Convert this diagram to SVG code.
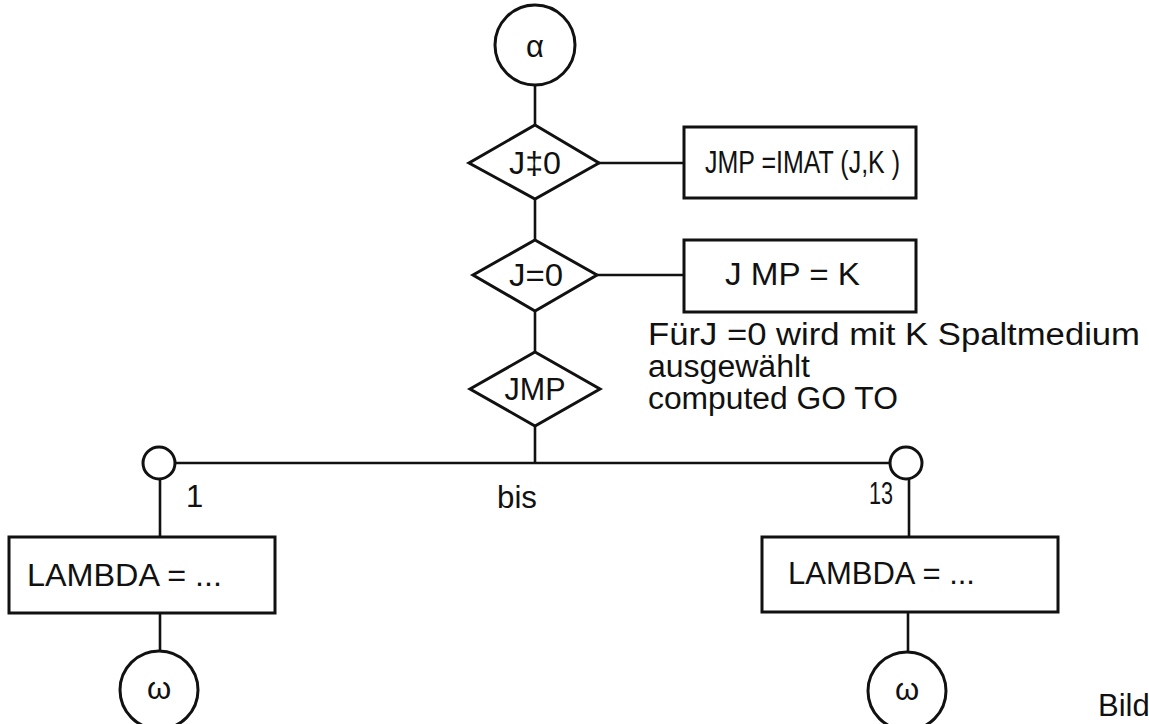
<svg xmlns="http://www.w3.org/2000/svg" width="1149" height="724" viewBox="0 0 1149 724">
<style>
.s{fill:none;stroke:#111;stroke-width:3}
.ln{fill:none;stroke:#111;stroke-width:2.6}
.t{font-family:"Liberation Sans","DejaVu Sans",Arial,sans-serif;fill:#111;font-size:31px}
.m{text-anchor:middle}
</style>
<rect width="1149" height="724" fill="#fff"/>
<g id="connectors">
<line class="ln" x1="535" y1="85" x2="535" y2="125"/>
<line class="ln" x1="535" y1="199" x2="535" y2="240"/>
<line class="ln" x1="535" y1="311" x2="535" y2="352"/>
<line class="ln" x1="535" y1="426" x2="535" y2="463"/>
<line class="ln" x1="599" y1="163" x2="684" y2="163"/>
<line class="ln" x1="597" y1="275" x2="684" y2="275"/>
<line class="ln" x1="175" y1="463" x2="890" y2="463"/>
<line class="ln" x1="160" y1="479" x2="160" y2="537"/>
<line class="ln" x1="909" y1="479" x2="909" y2="537"/>
<line class="ln" x1="160" y1="613" x2="160" y2="651"/>
<line class="ln" x1="908" y1="612" x2="908" y2="652"/>
</g>
<g id="alpha">
<circle class="s" cx="535" cy="45" r="40"/>
<text class="t m" x="535" y="57" font-size="34">α</text>
</g>
<g id="dec1">
<polygon class="s" points="535,125 599,163 535,199 469,163"/>
<text class="t m" x="535" y="174" textLength="52" lengthAdjust="spacingAndGlyphs">J‡0</text>
</g>
<g id="box1">
<rect class="s" x="684" y="127" width="232" height="71"/>
<text class="t" x="705" y="173" font-size="32" textLength="195" lengthAdjust="spacingAndGlyphs">JMP =IMAT (J,K )</text>
</g>
<g id="dec2">
<polygon class="s" points="535,240 597,275 535,311 473,275"/>
<text class="t m" x="536" y="286" textLength="54" lengthAdjust="spacingAndGlyphs">J=0</text>
</g>
<g id="box2">
<rect class="s" x="684" y="240" width="232" height="72"/>
<text class="t" x="725" y="285" font-size="32" textLength="135" lengthAdjust="spacingAndGlyphs">J MP = K</text>
</g>
<g id="note">
<text class="t" font-size="23"><tspan x="648" y="345" textLength="492" lengthAdjust="spacingAndGlyphs">FürJ =0 wird mit K Spaltmedium</tspan><tspan x="648" y="377" textLength="162" lengthAdjust="spacingAndGlyphs">ausgewählt</tspan><tspan x="648" y="409" textLength="250" lengthAdjust="spacingAndGlyphs">computed GO TO</tspan></text>
</g>
<g id="dec3">
<polygon class="s" points="535,352 600,389 535,426 470,389"/>
<text class="t m" x="535" y="400" textLength="61" lengthAdjust="spacingAndGlyphs">JMP</text>
</g>
<g id="c1">
<circle class="s" cx="159" cy="463" r="16"/>
</g>
<g id="c13">
<circle class="s" cx="906" cy="463" r="16"/>
</g>
<g id="labels">
<text class="t" x="186" y="507" font-size="28">1</text>
<text class="t m" x="517" y="508" font-size="28" textLength="40" lengthAdjust="spacingAndGlyphs">bis</text>
<text class="t" x="869" y="504" font-size="28" textLength="24" lengthAdjust="spacingAndGlyphs">13</text>
</g>
<g id="lambda1">
<rect class="s" x="9" y="537" width="266" height="76"/>
<text class="t" x="27" y="586" font-size="32" textLength="195" lengthAdjust="spacingAndGlyphs">LAMBDA = ...</text>
</g>
<g id="lambda13">
<rect class="s" x="762" y="537" width="296" height="75"/>
<text class="t" x="788" y="584" font-size="32" textLength="187" lengthAdjust="spacingAndGlyphs">LAMBDA =  ...</text>
</g>
<g id="omega1">
<circle class="s" cx="159" cy="690" r="39"/>
<text class="t m" x="159" y="699">ω</text>
</g>
<g id="omega13">
<circle class="s" cx="907" cy="691" r="39"/>
<text class="t m" x="907" y="700">ω</text>
</g>
<text class="t" x="1098" y="716" font-size="26">Bild</text>
</svg>
